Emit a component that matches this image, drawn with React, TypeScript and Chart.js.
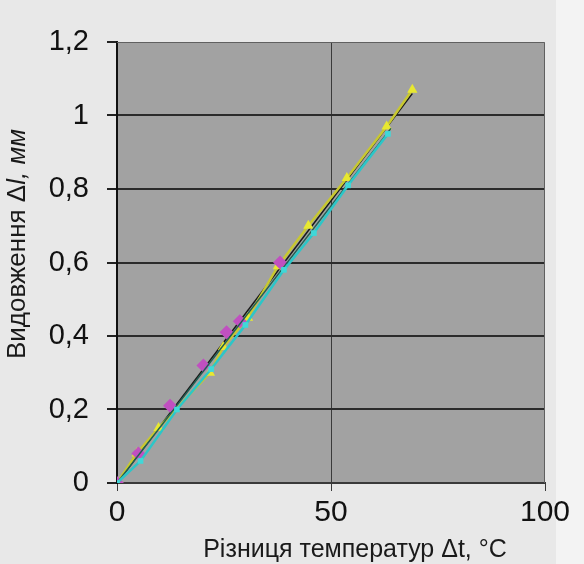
import React, { useEffect, useRef } from "react";
import { Chart, registerables } from "chart.js";

Chart.register(...registerables);

// ---- data ----
const yellowX = [0, 4.6, 9.7, 21.7, 24.8, 30.6, 37.6, 44.7, 53.7, 63, 69];
const yellowY = [0, 0.08, 0.15, 0.3, 0.37, 0.45, 0.59, 0.7, 0.83, 0.97, 1.07];

const magentaX = [0, 5, 12.4, 20.2, 25.6, 28.7, 38.1];
const magentaY = [0, 0.08, 0.21, 0.32, 0.41, 0.44, 0.6];

const cyanX = [0, 5.5, 14, 22, 30, 39, 46, 54, 63.3];
const cyanY = [0, 0.06, 0.2, 0.31, 0.43, 0.58, 0.68, 0.81, 0.95];

const blackTrendX = [0, 69];
const blackTrendY = [0, 1.06];

const tealTrendX = [0, 64];
const tealTrendY = [0, 0.965];

const xTicks = [0, 50, 100];
const yTicks = [0, 0.2, 0.4, 0.6, 0.8, 1, 1.2];

const xTitle = "Різниця температур Δt, °C";
const yTitleParts = [
  { text: "Видовження Δ", italic: false },
  { text: "l", italic: true },
  { text: ", мм", italic: true },
];

const toPts = (xs: number[], ys: number[]) => xs.map((x, i) => ({ x, y: ys[i] }));

const FONT = "'Liberation Sans', Arial, sans-serif";

const bgPlugin = {
  id: "bgPlugin",
  beforeDraw(chart: any) {
    const { ctx, chartArea } = chart;
    ctx.save();
    ctx.fillStyle = "#e8e8e8";
    ctx.fillRect(0, 0, chart.width, chart.height);
    ctx.fillStyle = "#f3f3f3";
    ctx.fillRect(556, 0, chart.width - 556, chart.height);
    ctx.fillStyle = "#a2a2a2";
    ctx.fillRect(chartArea.left, chartArea.top, chartArea.right - chartArea.left, chartArea.bottom - chartArea.top);
    ctx.restore();
  },
  afterDraw(chart: any) {
    const { ctx, chartArea } = chart;
    ctx.save();
    // plot border top/right
    ctx.strokeStyle = "#606060";
    ctx.lineWidth = 1;
    ctx.beginPath();
    ctx.moveTo(chartArea.left, chartArea.top + 0.5);
    ctx.lineTo(chartArea.right - 0.5, chartArea.top + 0.5);
    ctx.lineTo(chartArea.right - 0.5, chartArea.bottom);
    ctx.stroke();
    // x title
    ctx.fillStyle = "#1a1a1a";
    ctx.font = `25px ${FONT}`;
    ctx.textAlign = "center";
    ctx.textBaseline = "middle";
    ctx.fillText(xTitle, 355, 550);
    // y title (rotated, mixed italic)
    ctx.translate(18, 244);
    ctx.rotate(-Math.PI / 2);
    const fontFor = (it: boolean) => `${it ? "italic " : ""}26px ${FONT}`;
    let total = 0;
    for (const p of yTitleParts) {
      ctx.font = fontFor(p.italic);
      total += ctx.measureText(p.text).width;
    }
    let x = -total / 2;
    ctx.textAlign = "left";
    for (const p of yTitleParts) {
      ctx.font = fontFor(p.italic);
      ctx.fillText(p.text, x, 0);
      x += ctx.measureText(p.text).width;
    }
    ctx.restore();
  },
};

export default function App() {
  const ref = useRef<HTMLCanvasElement>(null);
  useEffect(() => {
    document.body.style.margin = "0";
    const chart = new Chart(ref.current!, {
      type: "scatter",
      data: {
        datasets: [
          {
            data: toPts(cyanX, cyanY),
            showLine: true,
            borderColor: "#2cc6c8",
            borderWidth: 2.5,
            backgroundColor: "#40d8d8",
            pointStyle: "rect",
            pointRadius: 4,
            pointBorderWidth: 0,
          },
          {
            data: toPts(tealTrendX, tealTrendY),
            showLine: true,
            borderColor: "#1f5e52",
            borderWidth: 1.5,
            pointRadius: 0,
          },
          {
            data: toPts(magentaX, magentaY),
            showLine: false,
            backgroundColor: "#c050c0",
            borderColor: "#c050c0",
            pointStyle: "rectRot",
            pointRadius: 7,
            pointBorderWidth: 0,
          },
          {
            data: toPts(yellowX, yellowY),
            showLine: true,
            borderColor: "#c8c830",
            borderWidth: 2.5,
            backgroundColor: "#e8e830",
            pointStyle: "triangle",
            pointRadius: 6,
            pointBorderWidth: 0,
          },
          {
            data: toPts(blackTrendX, blackTrendY),
            showLine: true,
            borderColor: "#1a1a1a",
            borderWidth: 1.5,
            pointRadius: 0,
          },
        ],
      },
      options: {
        responsive: false,
        animation: false,
        events: [],
        layout: { padding: { top: 42, right: 39, left: 0, bottom: 0 } },
        plugins: { legend: { display: false }, tooltip: { enabled: false } },
        scales: {
          x: {
            type: "linear",
            min: 0,
            max: 100,
            afterBuildTicks: (s: any) => {
              s.ticks = xTicks.map((v) => ({ value: v }));
            },
            afterFit: (s: any) => {
              s.height = 81;
            },
            grid: {
              color: (c: any) => (c.tick && c.tick.value === 50 ? "#3a3a3a" : "rgba(0,0,0,0)"),
              tickColor: "#3a3a3a",
              lineWidth: 1,
              tickLength: 8,
            },
            border: { color: "#3a3a3a", width: 2 },
            ticks: {
              font: { family: FONT, size: 30 },
              color: "#111",
              padding: 4,
              maxRotation: 0,
            },
          },
          y: {
            type: "linear",
            min: 0,
            max: 1.2,
            afterBuildTicks: (s: any) => {
              s.ticks = yTicks.map((v) => ({ value: v }));
            },
            afterFit: (s: any) => {
              s.width = 117;
            },
            grid: {
              color: (c: any) =>
                c.tick && (c.tick.value === 0 || c.tick.value === 1.2) ? "rgba(0,0,0,0)" : "#2b2b2b",
              tickColor: "#222",
              lineWidth: 2,
              tickLength: 10,
            },
            border: { color: "#111", width: 2 },
            ticks: {
              font: { family: FONT, size: 29 },
              color: "#111",
              padding: 18,
              callback: (v: any) => String(Math.round(Number(v) * 10) / 10).replace(".", ","),
            },
          },
        },
      },
      plugins: [bgPlugin],
    });
    return () => chart.destroy();
  }, []);
  return (
    <div style={{ width: 584, height: 564 }}>
      <canvas ref={ref} width={584} height={564} style={{ display: "block" }} />
    </div>
  );
}
